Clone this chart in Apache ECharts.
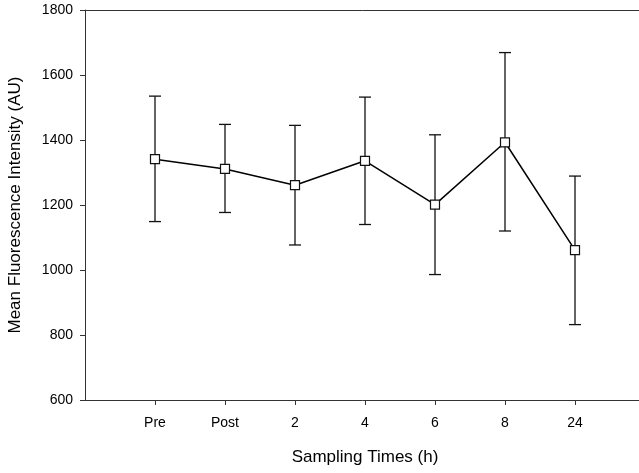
<!DOCTYPE html>
<html>
<head>
<meta charset="utf-8">
<script src="https://cdn.jsdelivr.net/npm/echarts@6/dist/echarts.min.js"></script>
<style>
  html, body { margin: 0; padding: 0; background: #fff; }
  #main { width: 639px; height: 473px; }
</style>
</head>
<body>
<div id="main"></div>
<script>
// sampling times and fluorescence values (mean, upper and lower error bar ends)
var times = ['Pre', 'Post', '2', '4', '6', '8', '24'];
var means = [1341, 1311, 1261, 1336, 1201, 1393, 1061];
var upper = [1535, 1448, 1445, 1532, 1416, 1669, 1289];
var lower = [1149, 1177, 1077, 1140, 986, 1120, 832];
var yTicks = [600, 800, 1000, 1200, 1400, 1600, 1800];

var positions = times.map(function (t, i) { return i + 1; });
var linePoints = means.map(function (v, i) { return [positions[i], v]; });
var barPoints = means.map(function (v, i) { return [positions[i], lower[i], upper[i]]; });

var myChart = echarts.init(document.getElementById('main'));
var option = {
  animation: false,
  textStyle: { fontFamily: 'Liberation Sans, Arial, sans-serif' },
  grid: {
    left: 85, top: 10, width: 560, height: 390,
    outerBoundsMode: 'none',
    containLabel: false
  },
  xAxis: [{
    type: 'value',
    min: 0, max: 8,
    interval: 1,
    name: 'Sampling Times (h)',
    nameLocation: 'middle',
    nameGap: 49,
    nameTextStyle: { fontSize: 17, color: '#000' },
    axisLine: { lineStyle: { color: '#333', width: 1 } },
    axisTick: { show: true, length: 5, customValues: positions, lineStyle: { color: '#333' } },
    axisLabel: {
      customValues: positions,
      margin: 16,
      fontSize: 14,
      color: '#000',
      formatter: function (v) { return times[Math.round(v) - 1] || ''; }
    },
    splitLine: { show: false }
  }, {
    // top frame line only
    type: 'value',
    position: 'top',
    min: 0, max: 8,
    axisLine: { show: true, lineStyle: { color: '#333', width: 1 } },
    axisTick: { show: false },
    axisLabel: { show: false },
    splitLine: { show: false }
  }],
  yAxis: {
    type: 'value',
    min: 600, max: 1800,
    interval: 200,
    name: 'Mean Fluorescence Intensity (AU)',
    nameLocation: 'middle',
    nameGap: 61,
    nameTextStyle: { fontSize: 17, color: '#000' },
    axisLine: { show: true, lineStyle: { color: '#333', width: 1 } },
    axisTick: { show: true, length: 5, lineStyle: { color: '#333' } },
    axisLabel: {
      margin: 12,
      fontSize: 14,
      color: '#000',
      customValues: yTicks,
      formatter: function (v) { return String(v); }
    },
    splitLine: { show: false }
  },
  series: [
    {
      type: 'custom',
      data: barPoints,
      z: 1,
      renderItem: function (params, api) {
        var x = api.value(0);
        var lo = api.coord([x, api.value(1)]);
        var hi = api.coord([x, api.value(2)]);
        var half = 6;
        var style = { stroke: '#111', lineWidth: 1.3 };
        return {
          type: 'group',
          children: [
            { type: 'line', shape: { x1: lo[0], y1: lo[1], x2: hi[0], y2: hi[1] }, style: style },
            { type: 'line', shape: { x1: hi[0] - half, y1: hi[1], x2: hi[0] + half, y2: hi[1] }, style: style },
            { type: 'line', shape: { x1: lo[0] - half, y1: lo[1], x2: lo[0] + half, y2: lo[1] }, style: style }
          ]
        };
      }
    },
    {
      type: 'line',
      data: linePoints,
      z: 2,
      symbol: 'rect',
      symbolSize: 9,
      itemStyle: { color: '#fff', borderColor: '#111', borderWidth: 1.2 },
      lineStyle: { color: '#000', width: 1.5 }
    }
  ]
};
myChart.setOption(option);
</script>
</body>
</html>
